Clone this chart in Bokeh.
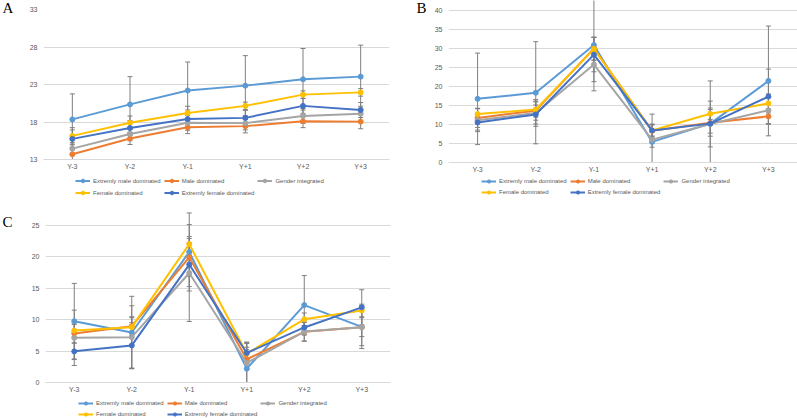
from bokeh.plotting import figure
from bokeh.layouts import column, row
from bokeh.models import FixedTicker, Legend, LegendItem, Label, Range1d
from bokeh.embed import file_html
from bokeh.resources import INLINE

periods = ["Y-3", "Y-2", "Y-1", "Y+1", "Y+2", "Y+3"]
series_names = ["Extremly male dominated", "Male dominated", "Gender integrated",
                "Female dominated", "Extremly female dominated"]
series_colors = ["#5B9BD5", "#ED7D31", "#A5A5A5", "#FFC000", "#4472C4"]

# Panel A
a_ext_male = [18.35, 20.35, 22.2, 22.85, 23.7, 24.05]
a_male = [13.7, 15.8, 17.3, 17.45, 18.1, 18.05]
a_gender = [14.45, 16.4, 17.9, 17.85, 18.8, 19.1]
a_female = [16.15, 17.9, 19.2, 20.15, 21.65, 21.95]
a_ext_female = [15.75, 17.2, 18.4, 18.55, 20.15, 19.6]
a_err_ext_male = [3.4, 3.7, 3.8, 4.0, 4.1, 4.2]
a_err_male = [0.9, 0.8, 0.85, 0.9, 0.85, 0.95]
a_err_gender = [0.8, 0.9, 1.0, 0.9, 1.0, 1.0]
a_err_female = [1.1, 0.9, 0.9, 0.5, 0.5, 0.5]
a_err_ext_female = [1.2, 1.0, 1.2, 1.0, 1.0, 1.0]
a_ticks = [13, 18, 23, 28, 33]

# Panel B
b_ext_male = [16.7, 18.3, 30.8, 5.4, 10.2, 21.4]
b_male = [11.7, 13.6, 29.9, 8.3, 10.4, 12.1]
b_gender = [11.1, 13.0, 25.7, 6.0, 10.1, 13.7]
b_female = [12.7, 13.9, 29.8, 8.4, 12.8, 15.5]
b_ext_female = [10.5, 12.6, 28.3, 8.4, 10.2, 17.3]
b_err_ext_male = [12.0, 13.4, 12.0, 7.3, 11.2, 14.4]
b_err_male = [2.5, 2.5, 3.0, 1.8, 3.5, 2.0]
b_err_gender = [3.0, 3.5, 4.5, 2.0, 6.0, 3.5]
b_err_female = [1.5, 2.0, 3.0, 1.5, 1.5, 2.5]
b_err_ext_female = [2.0, 2.5, 4.5, 1.5, 2.5, 7.2]
b_ticks = [0, 5, 10, 15, 20, 25, 30, 35, 40]

# Panel C
c_ext_male = [9.75, 7.95, 20.75, 2.2, 12.3, 8.85]
c_male = [7.8, 8.95, 19.9, 3.7, 8.05, 8.8]
c_gender = [7.1, 7.2, 17.4, 3.1, 8.1, 8.8]
c_female = [8.25, 8.8, 22.0, 4.6, 10.05, 11.45]
c_ext_female = [4.95, 5.9, 18.75, 4.7, 8.75, 11.95]
c_err_ext_male = [6.0, 5.75, 6.2, 4.2, 4.7, 3.0]
c_err_male = [1.5, 1.5, 3.0, 1.5, 1.5, 1.5]
c_err_gender = [4.4, 5.0, 7.7, 3.1, 1.5, 3.4]
c_err_female = [1.0, 1.5, 1.2, 1.0, 1.0, 1.0]
c_err_ext_female = [1.3, 3.6, 3.5, 1.7, 1.2, 2.8]
c_ticks = [0, 5, 10, 15, 20, 25]

FONT = "Liberation Sans"
TXT = "#595959"
XS = list(range(len(periods)))


def blank_fig(w, h, off=0):
    f = figure(width=w, height=h, output_backend="svg", toolbar_location=None,
               x_axis_type=None, y_axis_type=None,
               x_range=Range1d(off, off + w), y_range=Range1d(off, off + h),
               min_border=0, min_border_left=0, min_border_right=0,
               min_border_top=0, min_border_bottom=0)
    f.outline_line_color = None
    f.background_fill_color = "white"
    f.border_fill_color = "white"
    return f


def letter_fig(letter, w, h, x, top):
    f = blank_fig(w, h)
    f.add_layout(Label(x=x, y=h - top, text=letter, text_align="left",
                       text_baseline="top", text_font="Liberation Serif",
                       text_font_size="15px", text_color="black"))
    return f


def legend_fig(values, w, h, lx, ly, lh):
    # the panel's series are drawn far outside this figure's ranges; only the legend shows
    f = blank_fig(w, h, off=1000)
    items = []
    for name, col, vals in zip(series_names, series_colors, values):
        ln = f.line(XS, vals, line_color=col, line_width=2)
        sc = f.scatter(XS, vals, marker="circle", size=5, fill_color=col, line_color=col)
        items.append(LegendItem(label=name, renderers=[ln, sc]))
    legend = Legend(items=items, orientation="horizontal", ncols=3,
                    location=(lx, ly),
                    label_text_font=FONT, label_text_font_size="6px", label_text_color=TXT,
                    glyph_width=15, glyph_height=lh, label_height=lh, label_standoff=3,
                    spacing=3, padding=1, margin=0, border_line_color=None,
                    background_fill_alpha=0)
    f.add_layout(legend)
    return f


def make_panel(values, errors, y_lo, y_hi, ticks, fw, fh, left, right, top, bottom):
    p = figure(frame_width=fw, frame_height=fh, output_backend="svg",
               toolbar_location=None, x_range=Range1d(-0.5, len(periods) - 0.5),
               y_range=Range1d(y_lo, y_hi),
               min_border_left=left, min_border_right=right,
               min_border_top=top, min_border_bottom=bottom)
    p.outline_line_color = None
    p.background_fill_color = "white"
    p.border_fill_color = "white"
    p.xgrid.grid_line_color = None
    p.ygrid.grid_line_color = "#D9D9D9"
    p.ygrid.grid_line_width = 1
    p.yaxis.ticker = FixedTicker(ticks=ticks)
    p.xaxis.ticker = FixedTicker(ticks=XS)
    p.xaxis.major_label_overrides = {i: lab for i, lab in enumerate(periods)}
    for ax in (p.xaxis, p.yaxis):
        ax.major_tick_line_color = None
        ax.minor_tick_line_color = None
        ax.major_tick_out = 0
        ax.major_tick_in = 0
        ax.minor_tick_out = 0
        ax.major_label_text_font = FONT
        ax.major_label_text_font_size = "7px"
        ax.major_label_text_color = TXT
    p.xaxis.major_label_standoff = 3
    p.yaxis.major_label_standoff = 6
    p.yaxis.axis_line_color = None
    p.xaxis.axis_line_color = "#D9D9D9"

    # error bars first (behind lines)
    for vals, errs in zip(values, errors):
        lo = [v - e for v, e in zip(vals, errs)]
        hi = [v + e for v, e in zip(vals, errs)]
        p.segment(x0=XS, y0=lo, x1=XS, y1=hi, line_color="#7F7F7F", line_width=1)
        p.scatter(x=XS, y=lo, marker="dash", size=5, line_color="#7F7F7F", line_width=1)
        p.scatter(x=XS, y=hi, marker="dash", size=5, line_color="#7F7F7F", line_width=1)

    for col, vals in zip(series_colors, values):
        p.line(XS, vals, line_color=col, line_width=2)
        p.scatter(XS, vals, marker="circle", size=5, fill_color=col, line_color=col)
    return p


a_vals = [a_ext_male, a_male, a_gender, a_female, a_ext_female]
b_vals = [b_ext_male, b_male, b_gender, b_female, b_ext_female]
c_vals = [c_ext_male, c_male, c_gender, c_female, c_ext_female]

pa = make_panel(a_vals,
                [a_err_ext_male, a_err_male, a_err_gender, a_err_female, a_err_ext_female],
                13, 33, a_ticks, 346, 150, 21, 11, 9, 13)
pb = make_panel(b_vals,
                [b_err_ext_male, b_err_male, b_err_gender, b_err_female, b_err_ext_female],
                0, 42.5, b_ticks, 349, 162, 18, 0, 0, 13)
pc = make_panel(c_vals,
                [c_err_ext_male, c_err_male, c_err_gender, c_err_female, c_err_ext_female],
                0, 27.5, c_ticks, 345, 173, 23, 10, 1, 13)

la = letter_fig("A", 22, 208, 2, -1)
lb = letter_fig("B", 30, 208, 16, -1)
lc = letter_fig("C", 22, 210, 2, 5)

ga = legend_fig(a_vals, 378, 36, 32, 11, 9)
gb = legend_fig(b_vals, 367, 33, 33, 12, 8)
gc = legend_fig(c_vals, 378, 23, 33, 0, 8)

p = column(
    row(la, column(pa, ga), lb, column(pb, gb)),
    row(lc, column(pc, gc)),
)

open("out.html", "w").write(file_html(p, INLINE))
